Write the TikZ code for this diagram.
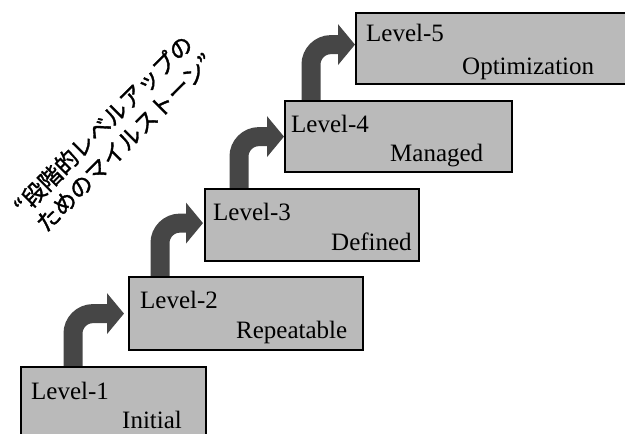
\documentclass[tikz,border=0pt]{standalone}
\usepackage{fontspec}
\setmainfont{Liberation Serif}
\newfontfamily\jpfont{Noto Sans CJK JP}[FakeBold=1.5]
\usetikzlibrary{arrows.meta,calc}
\definecolor{boxgray}{RGB}{186,186,186}
\definecolor{arrowgray}{RGB}{70,70,70}
\begin{document}
\begin{tikzpicture}[x=1pt,y=-1pt,
  levelbox/.style={draw=black, line width=1.2pt, fill=boxgray, rectangle,
    anchor=north west, inner sep=0pt, minimum height=70pt},
  boxtext/.style={anchor=base west, inner sep=0pt, font=\fontsize{25}{30}\selectfont},
  stairarrow/.style={draw=arrowgray, line width=19pt, rounded corners=20pt,
    -{Triangle[width=40pt,length=17pt]}},
  jptext/.style={anchor=base west, inner sep=0pt, rotate=45,
    font=\jpfont\fontsize{23}{28}\selectfont}
]
\useasboundingbox (0,0) rectangle (625,434);
\begin{scope}
\clip (0,0) rectangle (625,434);

% the five level boxes, stepping up to the right
\node[levelbox, minimum width=184pt, minimum height=90pt] (L1) at (21,367) {};
\node[levelbox, minimum width=233pt, minimum height=72pt] (L2) at (129,277) {};
\node[levelbox, minimum width=213pt, minimum height=71pt] (L3) at (205,189) {};
\node[levelbox, minimum width=226pt] (L4) at (285,101) {};
\node[levelbox, minimum width=290pt] (L5) at (356,13) {};

% curved step arrows from each box up into the next one
\coordinate (s1) at ($(L1.north -| L2.west)+(-56,0)$);
\coordinate (s2) at ($(L2.north -| L3.west)+(-45,0)$);
\coordinate (s3) at ($(L3.north -| L4.west)+(-46,0)$);
\coordinate (s4) at ($(L4.north -| L5.west)+(-45,0)$);
\coordinate (t1) at ($(L2.west)+(-5,0)$);
\coordinate (t2) at ($(L3.west)+(-2,-2)$);
\coordinate (t3) at ($(L4.west)+(-1,0)$);
\coordinate (t4) at ($(L5.west)+(-1,-4)$);
\draw[stairarrow] (s1) |- (t1);
\draw[stairarrow] (s2) |- (t2);
\draw[stairarrow] (s3) |- (t3);
\draw[stairarrow] (s4) |- (t4);

% redraw box outlines over the arrow stems
\foreach \b in {L1,L2,L3,L4,L5}
  \draw[line width=1.2pt] (\b.south west) rectangle (\b.north east);

% box labels
\node[boxtext] (l1a) at ($(L1.north west)+(10,32)$) {Level-1};
\node[boxtext] (l1b) at ($(L1.north west)+(101,61)$) {Initial};
\node[boxtext] (l2a) at ($(L2.north west)+(11,31)$) {Level-2};
\node[boxtext] (l2b) at ($(L2.north west)+(107,61)$) {Repeatable};
\node[boxtext] (l3a) at ($(L3.north west)+(8,31)$) {Level-3};
\node[boxtext] (l3b) at ($(L3.north west)+(126,61)$) {Defined};
\node[boxtext] (l4a) at ($(L4.north west)+(6,31)$) {Level-4};
\node[boxtext] (l4b) at ($(L4.north west)+(105,60)$) {Managed};
\node[boxtext] (l5a) at ($(L5.north west)+(10,28)$) {Level-5};
\node[boxtext] (l5b) at ($(L5.north west)+(106,61)$) {Optimization};

% diagonal caption
\node[jptext] (cap1) at (31.8,208.6) {\llap{“}段階的レベルアップの};
\node[jptext] (cap2) at (46,233.5) {ためのマイルストーン”};
\end{scope}
\end{tikzpicture}
\end{document}
